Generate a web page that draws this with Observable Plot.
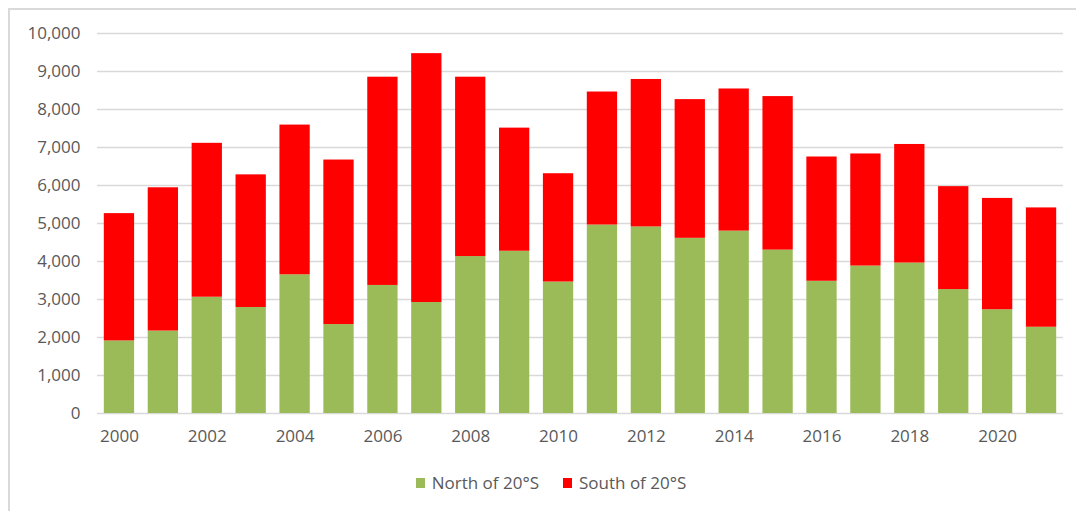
<!DOCTYPE html>
<html>
<head>
<meta charset="utf-8">
<script src="https://cdn.jsdelivr.net/npm/d3@7"></script>
<script src="https://cdn.jsdelivr.net/npm/@observablehq/plot@0.6"></script>
<style>
  html, body { margin: 0; padding: 0; background: #fff; }
  body { width: 1076px; height: 511px; position: relative; overflow: hidden; font-family: "Open Sans", sans-serif; }
  #frame { position: absolute; left: 8px; top: 8px; width: 1100px; height: 520px; border-left: 2px solid #d9d9d9; border-top: 2px solid #d9d9d9; box-sizing: border-box; }
  #chart { position: absolute; left: 0; top: 0; }
  #legend { position: absolute; left: 0; top: 471px; width: 1076px; display: flex; justify-content: center; gap: 24px; font-size: 17px; color: #595959; padding-left: 26px; box-sizing: border-box; }
  .item { display: flex; align-items: center; gap: 7px; }
  .sw { width: 9px; height: 10px; display: inline-block; }
</style>
</head>
<body>
<div id="frame"></div>
<div id="chart"></div>
<div id="legend"></div>
<script>
const years = ["2000","2001","2002","2003","2004","2005","2006","2007","2008","2009","2010","2011","2012","2013","2014","2015","2016","2017","2018","2019","2020","2021"];
const north = [1910,2170,3060,2790,3650,2340,3370,2920,4130,4270,3460,4960,4910,4610,4800,4300,3480,3880,3960,3260,2730,2270];
const south = [3350,3770,4050,3490,3940,4330,5480,6550,4720,3240,2850,3500,3880,3650,3740,4040,3270,2950,3120,2710,2930,3140];
const seriesNames = ["North of 20°S", "South of 20°S"];
const seriesColors = ["#9BBB59", "#FF0000"];
const xTickLabels = ["2000","2002","2004","2006","2008","2010","2012","2014","2016","2018","2020"];
const yTicks = [0,1000,2000,3000,4000,5000,6000,7000,8000,9000,10000];

const rows = [];
years.forEach((y, i) => rows.push({year: y, series: seriesNames[0], value: north[i]}));
years.forEach((y, i) => rows.push({year: y, series: seriesNames[1], value: south[i]}));

const chart = Plot.plot({
  width: 1076,
  height: 460,
  marginTop: 33,
  marginBottom: 47,
  marginLeft: 97,
  marginRight: 13,
  style: { fontFamily: "'Open Sans', sans-serif", fontSize: "17px", color: "#595959", background: "transparent" },
  x: { domain: years, paddingInner: 0.31, paddingOuter: 0.155, round: false, label: null, tickSize: 0, tickPadding: 16, ticks: xTickLabels },
  y: { domain: [0, 10000], ticks: yTicks, tickFormat: d3.format(","), label: null, tickSize: 0, tickPadding: 17 },
  color: { domain: seriesNames, range: seriesColors },
  marks: [
    Plot.gridY(yTicks, { stroke: "#d9d9d9", strokeOpacity: 1, strokeWidth: 1.5 }),
    Plot.barY(rows, { x: "year", y: "value", fill: "series", order: seriesNames }),
    Plot.axisY({ ticks: yTicks, tickFormat: d3.format(","), tickSize: 0, tickPadding: 17, fill: "#595959" }),
    Plot.axisX({ ticks: xTickLabels, tickSize: 0, tickPadding: 16, fill: "#595959" })
  ]
});
document.getElementById("chart").appendChild(chart);

const legend = document.getElementById("legend");
seriesNames.forEach((n, i) => {
  const it = document.createElement("div");
  it.className = "item";
  const sw = document.createElement("span");
  sw.className = "sw";
  sw.style.background = seriesColors[i];
  const t = document.createElement("span");
  t.textContent = n;
  it.appendChild(sw);
  it.appendChild(t);
  legend.appendChild(it);
});
</script>
</body>
</html>
